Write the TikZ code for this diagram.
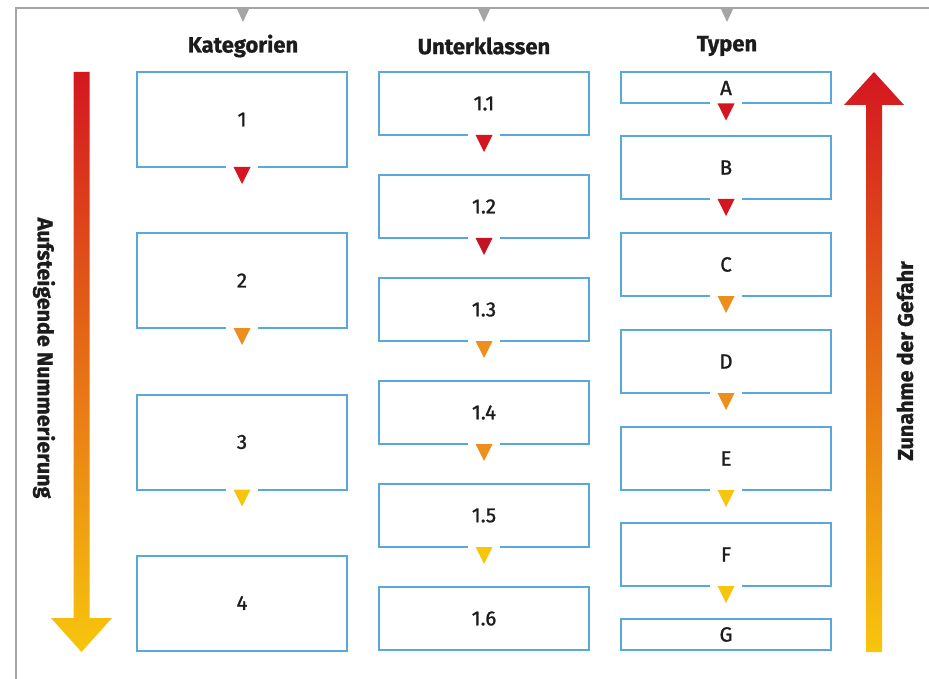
\documentclass[tikz,border=0pt]{standalone}
\usepackage{fontspec}
\setmainfont{Fira Sans}
\newfontfamily\cellfont[FakeBold=1.2]{Fira Sans}
\newfontfamily\headfont[FakeBold=0.8]{Fira Sans Bold}
\usetikzlibrary{calc}

\definecolor{boxblue}{RGB}{88,168,220}
\definecolor{framegray}{RGB}{165,165,165}
\definecolor{hazred}{RGB}{212,22,32}
\definecolor{hazdark}{RGB}{196,20,36}
\definecolor{hazorange}{RGB}{238,142,28}
\definecolor{hazyellow}{RGB}{247,198,12}
\definecolor{ink}{RGB}{28,28,28}

\tikzset{
  cell/.style={draw=boxblue, line width=2pt, fill=white, inner sep=0pt,
    minimum width=210pt, text=ink, font=\cellfont\fontsize{20.5}{20.5}\selectfont},
  catcell/.style={cell, minimum height=95pt},
  subcell/.style={cell, minimum height=63pt},
  typecell/.style={cell, minimum height=63pt},
  thincell/.style={cell, minimum height=31pt},
  colhead/.style={text=ink, font=\headfont\fontsize{22}{22}\selectfont},
  sidelabel/.style={text=ink, font=\headfont\fontsize{21.5}{21.5}\selectfont},
}

% gap in the lower edge of a cell with a coloured pointer below it
\newcommand\hazmark[2]{%
  \fill[white] ($(#1.south)+(-16,-2)$) rectangle ($(#1.south)+(16,2)$);
  \fill[#2] ($(#1.south)+(-8.5,-1)$) -- ($(#1.south)+(8.5,-1)$) -- ($(#1.south)+(0,16)$) -- cycle;}

\begin{document}
\begin{tikzpicture}[x=1pt, y=-1pt]
\useasboundingbox (0,0) rectangle (929,679);
\fill[white] (0,0) rectangle (929,679);

% outer frame (top and left edge)
\draw[framegray, line width=2pt] (929,8) -- (16,8) -- (16,679);
\foreach \cx in {243,484,727}
  \fill[framegray] (\cx-6.5,8) -- (\cx+6.5,8) -- (\cx,22) -- cycle;

% column headings
\node[colhead] (hk) at (243,46) {Kategorien};
\node[colhead] (hu) at (484,46) {Unterklassen};
\node[colhead] (ht) at (727,46) {Typen};

% categories
\node[catcell] (k1) at (242,119.5) {1};
\node[catcell] (k2) at (242,280.5) {2};
\node[catcell] (k3) at (242,442) {3};
\node[catcell] (k4) at (242,603) {4};
\hazmark{k1}{hazred}
\hazmark{k2}{hazorange}
\hazmark{k3}{hazyellow}

% subclasses
\node[subcell] (u1) at (484,103.5) {1.1};
\node[subcell] (u2) at (484,206.5) {1.2};
\node[subcell] (u3) at (484,309.5) {1.3};
\node[subcell] (u4) at (484,412.5) {1.4};
\node[subcell] (u5) at (484,515.5) {1.5};
\node[subcell] (u6) at (484,618.5) {1.6};
\hazmark{u1}{hazred}
\hazmark{u2}{hazdark}
\hazmark{u3}{hazorange}
\hazmark{u4}{hazorange}
\hazmark{u5}{hazyellow}

% types
\node[thincell] (tA) at (726,88) {A};
\node[typecell] (tB) at (726,167.5) {B};
\node[typecell] (tC) at (726,264.5) {C};
\node[typecell] (tD) at (726,361.5) {D};
\node[typecell] (tE) at (726,458.5) {E};
\node[typecell] (tF) at (726,554.5) {F};
\node[thincell] (tG) at (726,634.5) {G};
\hazmark{tA}{hazred}
\hazmark{tB}{hazred}
\hazmark{tC}{hazorange}
\hazmark{tD}{hazorange}
\hazmark{tE}{hazyellow}
\hazmark{tF}{hazyellow}

% downward arrow: ascending numbering
\shade[top color=hazred, middle color=hazorange, bottom color=hazyellow]
  (73.5,72) -- (89.5,72) -- (89.5,618) -- (112,618) -- (81.5,652)
  -- (51,618) -- (73.5,618) -- cycle;
\node[sidelabel, rotate=-90] (asc) at (44,358) {Aufsteigende Nummerierung};

% upward arrow: increasing hazard
\shade[top color=hazred, middle color=hazorange, bottom color=hazyellow]
  (874,72) -- (904,105) -- (882,105) -- (882,652) -- (866,652)
  -- (866,105) -- (844,105) -- cycle;
\node[sidelabel, rotate=90] (haz) at (905,361) {Zunahme der Gefahr};
\end{tikzpicture}
\end{document}
